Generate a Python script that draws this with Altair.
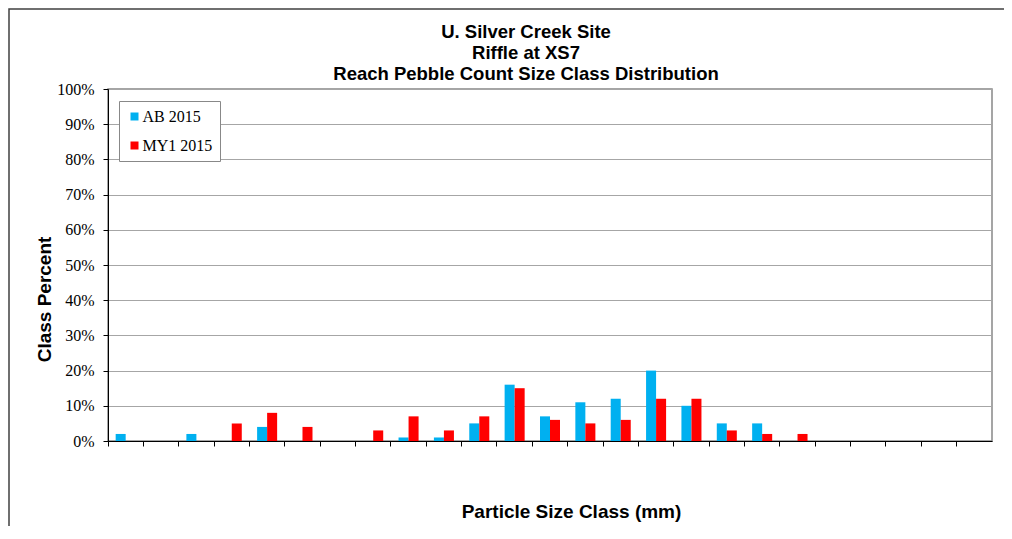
import altair as alt
import pandas as pd

size_classes = [
    "<0.062", "0.062-0.125", "0.125-0.25", "0.25-0.5", "0.5-1", "1-2",
    "2-4", "4-5.7", "5.7-8", "8-11.3", "11.3-16", "16-22.6", "22.6-32",
    "32-45", "45-64", "64-90", "90-128", "128-180", "180-256", "256-362",
    "362-512", "512-1024", "1024-2048", "2048-4096", "Bedrock",
]
ab_2015 = [2, 0, 2, 0, 4, 0, 0, 0, 1, 1, 5, 16, 7, 11, 12, 20, 10, 5, 5, 0, 0, 0, 0, 0, 0]
my1_2015 = [0, 0, 0, 5, 8, 4, 0, 3, 7, 3, 7, 15, 6, 5, 6, 12, 12, 3, 2, 2, 0, 0, 0, 0, 0]
series_names = ["AB 2015", "MY1 2015"]
series_colors = ["#00B0F0", "#FF0000"]
y_ticks = [0, 10, 20, 30, 40, 50, 60, 70, 80, 90, 100]
title_lines = ["U. Silver Creek Site", "Riffle at XS7", "Reach Pebble Count Size Class Distribution"]

rows = []
for i, c in enumerate(size_classes):
    rows.append({"cls": c, "series": series_names[0], "pct": ab_2015[i]})
    rows.append({"cls": c, "series": series_names[1], "pct": my1_2015[i]})
df = pd.DataFrame(rows)

W, H = 884, 352

frame = alt.Chart(pd.DataFrame({"k": [0]})).mark_rect(
    fill="transparent", stroke="#404040", strokeWidth=1.5
).encode(
    x=alt.value(-99), x2=alt.value(1000), y=alt.value(-80), y2=alt.value(600)
)

bars = alt.Chart(df).mark_bar().encode(
    x=alt.X(
        "cls:N", sort=size_classes,
        scale=alt.Scale(paddingInner=0, paddingOuter=0),
        axis=alt.Axis(
            title="Particle Size Class (mm)", labels=False, bandPosition=0,
            tickSize=5, tickColor="#000000", domainColor="#000000", grid=False,
            titleFont="Liberation Sans", titleFontSize=19, titleFontWeight="bold",
            titleColor="#000000", titleX=463, titleY=70, titleAlign="center",
            titleBaseline="middle",
        ),
    ),
    xOffset=alt.XOffset(
        "series:N", sort=series_names,
        scale=alt.Scale(paddingOuter=0.765, paddingInner=0),
    ),
    y=alt.Y(
        "pct:Q", scale=alt.Scale(domain=[0, 100]),
        axis=alt.Axis(
            values=y_ticks, labelExpr="datum.value + '%'", title="Class Percent",
            tickSize=5, tickColor="#000000", domainColor="#000000",
            labelPadding=9, labelFont="Liberation Serif", labelFontSize=16,
            labelColor="#000000", gridColor="#A6A6A6", gridWidth=1,
            titleFont="Liberation Sans", titleFontSize=19, titleFontWeight="bold",
            titleColor="#000000", titleX=-64, titleY=210, titleAngle=-90,
            titleAlign="center", titleBaseline="middle",
        ),
    ),
    color=alt.Color(
        "series:N", sort=series_names,
        scale=alt.Scale(domain=series_names, range=series_colors),
        legend=alt.Legend(
            title=None, orient="none", legendX=11, legendY=12,
            fillColor="#FFFFFF", strokeColor="#888888", padding=7.5,
            symbolType="square", symbolSize=64, symbolStrokeWidth=0,
            labelFont="Liberation Serif", labelFontSize=16, labelColor="#000000",
            rowPadding=13, labelOffset=0,
        ),
    ),
)

chart = alt.layer(frame, bars).properties(
    width=W, height=H,
    title=alt.Title(
        text=title_lines, font="Liberation Sans", fontSize=18.5, fontWeight="bold",
        color="#000000", lineHeight=21, anchor="middle", dx=-24, dy=87, offset=12,
    ),
    padding={"left": 100, "top": 81, "right": 12, "bottom": 85},
    autosize=alt.AutoSizeParams(type="none"),
).configure_view(
    stroke="#888888", strokeWidth=1.5
)

chart.save("out.html", embed_options={"renderer": "svg", "actions": False})
